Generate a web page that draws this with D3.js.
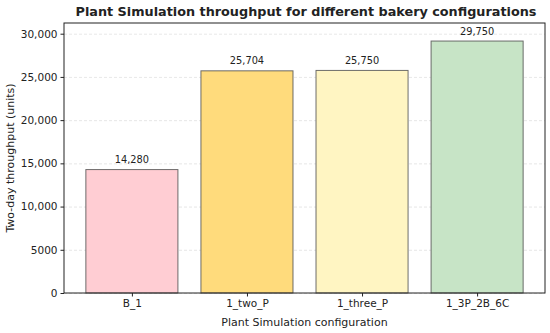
<!DOCTYPE html>
<html lang="en">
<head>
  <meta charset="UTF-8">
  <script src="https://d3js.org/d3.v7.min.js"></script>
  <style>
    body { margin: 0; background: #fff; }
    text { font-family: "DejaVu Sans", sans-serif; fill: #222; }
    .grid line { stroke: #ddd; stroke-dasharray: 3,2; stroke-opacity: 0.7; }
    .grid path { display: none; }
    .axis path, .axis line { stroke: #222; }
    .frame { fill: none; stroke: #222; stroke-width: 1; }
    .bar { stroke: #555; stroke-opacity: 0.85; stroke-width: 1; }
  </style>
</head>
<body>
  <svg width="550" height="333"></svg>
  <script>
    // chart data
    var configs = ["B_1", "1_two_P", "1_three_P", "1_3P_2B_6C"];
    var throughput = [14280, 25704, 25750, 29150];
    var valueLabels = ["14,280", "25,704", "25,750", "29,750"];
    var barColors = ["#ffcdd3", "#ffdb7c", "#fff5c2", "#c7e4c6"];
    var yTicks = [0, 5000, 10000, 15000, 20000, 25000, 30000];

    var svg = d3.select("svg");
    var mLeft = 64, mRight = 545, mTop = 23, mBottom = 293;

    var x = d3.scaleLinear().domain([-0.59, 3.59]).range([mLeft, mRight]);
    var y = d3.scaleLinear().domain([0, 31237.5]).range([mBottom, mTop]);
    var barW = x(0.8) - x(0);

    // gridlines
    svg.append("g")
      .attr("class", "grid")
      .attr("transform", "translate(" + mLeft + ",0)")
      .call(d3.axisLeft(y).tickValues(yTicks).tickSize(-(mRight - mLeft)).tickFormat(""));

    // bars
    svg.selectAll(".bar")
      .data(throughput)
      .enter().append("rect")
      .attr("class", "bar")
      .attr("x", function (d, i) { return x(i) - barW / 2; })
      .attr("y", function (d) { return y(d); })
      .attr("width", barW)
      .attr("height", function (d) { return y(0) - y(d); })
      .attr("fill", function (d, i) { return barColors[i]; });

    // value labels
    svg.selectAll(".vlabel")
      .data(throughput)
      .enter().append("text")
      .attr("x", function (d, i) { return x(i); })
      .attr("y", function (d) { return y(d) - 6.5; })
      .attr("text-anchor", "middle")
      .style("font-size", "9.8px")
      .text(function (d, i) { return valueLabels[i]; });

    // axes
    var fmt = function (d) { return d >= 10000 ? d3.format(",")(d) : String(d); };
    var yAxis = svg.append("g")
      .attr("class", "axis")
      .attr("transform", "translate(" + mLeft + ",0)")
      .call(d3.axisLeft(y).tickValues(yTicks).tickSize(3.5).tickPadding(3).tickFormat(fmt));
    yAxis.select(".domain").remove();
    yAxis.selectAll("text").style("font-size", "10.5px");

    var xAxis = svg.append("g")
      .attr("class", "axis")
      .attr("transform", "translate(0," + mBottom + ")")
      .call(d3.axisBottom(x).tickValues([0, 1, 2, 3]).tickSize(3.5).tickPadding(3)
        .tickFormat(function (d) { return configs[d]; }));
    xAxis.select(".domain").remove();
    xAxis.selectAll("text").style("font-size", "10.5px");

    svg.append("rect")
      .attr("class", "frame")
      .attr("x", mLeft)
      .attr("y", mTop)
      .attr("width", mRight - mLeft)
      .attr("height", mBottom - mTop);

    // titles
    svg.append("text")
      .attr("x", 306)
      .attr("y", 16)
      .attr("text-anchor", "middle")
      .style("font-size", "12.8px")
      .style("font-weight", "bold")
      .text("Plant Simulation throughput for different bakery configurations");

    svg.append("text")
      .attr("x", (mLeft + mRight) / 2)
      .attr("y", 326)
      .attr("text-anchor", "middle")
      .style("font-size", "11px")
      .text("Plant Simulation configuration");

    svg.append("text")
      .attr("transform", "translate(14," + ((mTop + mBottom) / 2) + ") rotate(-90)")
      .attr("text-anchor", "middle")
      .style("font-size", "11px")
      .text("Two-day throughput (units)");
  </script>
</body>
</html>
